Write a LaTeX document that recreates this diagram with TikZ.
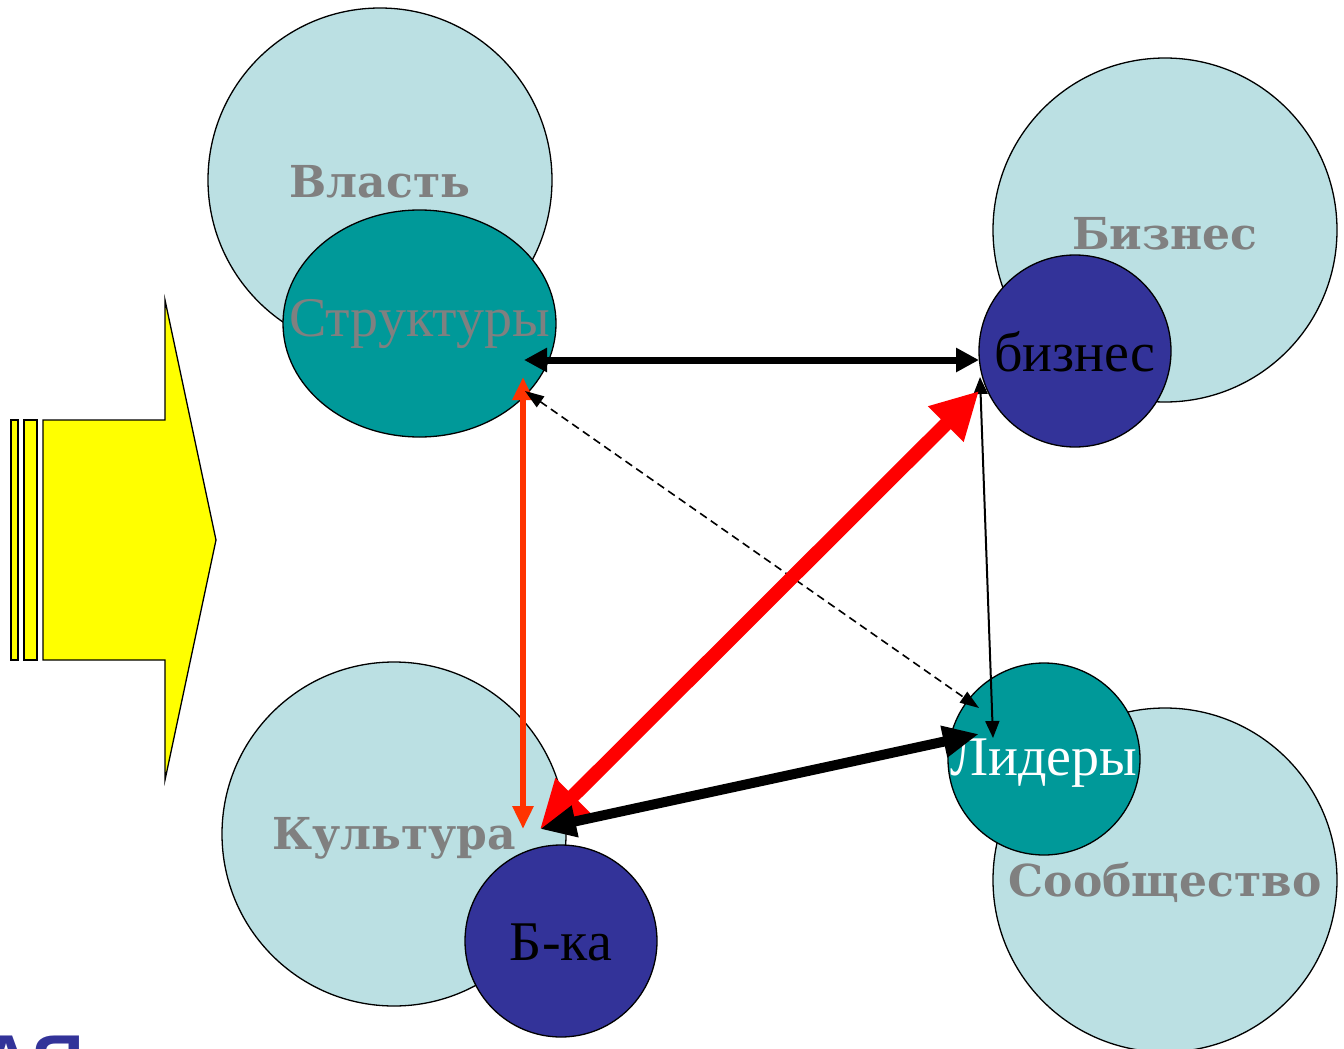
\documentclass[tikz,border=0pt]{standalone}
\usepackage{fontspec}
\setmainfont{Liberation Serif}
\newfontfamily\lblfont{DejaVu Serif}
\newfontfamily\sansbold{Liberation Sans}
\usetikzlibrary{arrows.meta,shapes.geometric}
\definecolor{lightc}{HTML}{BBE0E3}
\definecolor{tealc}{HTML}{009999}
\definecolor{navyc}{HTML}{333399}
\definecolor{grayt}{HTML}{808080}
\definecolor{orangered}{HTML}{FF3300}
\definecolor{yel}{HTML}{FFFF00}
\tikzset{
  big/.style={circle,draw=black,line width=1.3pt,fill=lightc,minimum size=344pt,inner sep=0pt},
  small/.style={circle,draw=black,line width=1.3pt,minimum size=192pt,inner sep=0pt},
  bigtxt/.style={font=\lblfont\bfseries\fontsize{44}{44}\selectfont,text=grayt},
  smalltxt/.style={font=\fontsize{56}{56}\selectfont},
}
\begin{document}
\begin{tikzpicture}[x=1pt,y=-1pt]
\useasboundingbox (0,0) rectangle (1344,1049);
\clip (0,0) rectangle (1344,1049);
% yellow arrow
\draw[fill=yel,line width=1.3pt] (11,420) rectangle (18,660);
\draw[fill=yel,line width=1.3pt] (24,420) rectangle (37,660);
\draw[fill=yel,line width=1.3pt] (43,420) -- (165,420) -- (165,300) -- (216,540) -- (165,780) -- (165,660) -- (43,660) -- cycle;
% big circles
\node[big] (vlast) at (380,180) {};
\node[big] (biz) at (1165,230) {};
\node[big] (kult) at (394,834) {};
\node[big] (soob) at (1165,880) {};
% labels of big circles (drawn before small ones)
\node[bigtxt] (tvlast) at (380,182) {Власть};
\node[bigtxt] (tbiz) at (1165,234) {Бизнес};
% small shapes
\node[ellipse,draw=black,line width=1.3pt,fill=tealc,minimum width=273pt,minimum height=227pt,inner sep=0pt] (strukt) at (419.5,323.5) {};
\node[small,fill=navyc] (bizs) at (1075,351) {};
\node[small,fill=tealc] (lid) at (1044,759) {};
\node[bigtxt] (tkult) at (394,838) {Культура};
\node[bigtxt] (tsoob) at (1165,882) {Сообщество};
\node[small,fill=navyc] (bka) at (561,941) {};
% small texts
\node[smalltxt,text=grayt] (tstrukt) at (419.5,324) {Структуры};
\node[smalltxt,text=black] (tbizs) at (1075,352) {бизнес};
\node[smalltxt,text=white] (tlid) at (1044,763) {Лидеры};
\node[smalltxt,text=black] (tbka) at (561,942) {Б-ка};
% anchor coordinates for connectors
\coordinate (s1) at (524,360);
\coordinate (b1) at (979,360);
\coordinate (s2) at (523,377);
\coordinate (k2) at (523,829);
\coordinate (s3) at (525,391);
\coordinate (l3) at (979,708);
\coordinate (b4) at (980,377);
\coordinate (l4) at (993,738);
\coordinate (k5) at (540,829);
\coordinate (b5) at (979,391);
\coordinate (l6) at (979,734);
% connectors
\draw[{Triangle[length=23pt,width=23pt]}-{Triangle[length=23pt,width=23pt]},line width=7pt] (s1) -- (b1);
\draw[{Triangle[length=23pt,width=20pt]}-{Triangle[length=23pt,width=20pt]},line width=6pt,draw=orangered] (s2) -- (k2);
\draw[{Triangle[length=19pt,width=13pt]}-{Triangle[length=19pt,width=13pt]},line width=1.6pt,dash pattern=on 8pt off 5pt] (s3) -- (l3);
\draw[{Triangle[length=17pt,width=14pt]}-{Triangle[length=17pt,width=14pt]},line width=2pt] (b4) -- (l4);
\draw[{Triangle[length=47pt,width=47pt]}-{Triangle[length=47pt,width=47pt]},line width=14pt,draw=red] (k5) -- (b5);
\draw[{Triangle[length=36pt,width=30pt]}-{Triangle[length=36pt,width=30pt]},line width=10pt] (k5) -- (l6);
% partial title at bottom-left
\node[font=\sansbold\bfseries\fontsize{72}{72}\selectfont,text=navyc,anchor=north west,inner sep=0pt] (title) at (-20,1036) {АЯ};
\end{tikzpicture}
\end{document}
